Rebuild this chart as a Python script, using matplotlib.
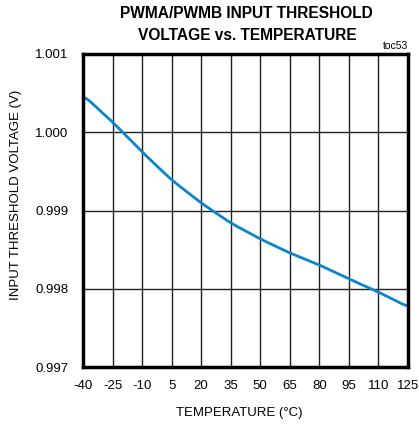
import matplotlib
matplotlib.use("Agg")
import matplotlib.pyplot as plt
import numpy as np

plt.rcParams['font.family'] = ['Liberation Sans', 'DejaVu Sans']
plt.rcParams['axes.unicode_minus'] = False

temp = [-40, -25, -10, 5, 20, 35, 50, 65, 80, 95, 110, 125]
vth = [1.000476, 1.000131, 0.999748, 0.999390, 0.999096, 0.998840,
       0.998636, 0.998457, 0.998304, 0.998125, 0.997958, 0.997767]
xticks = [-40, -25, -10, 5, 20, 35, 50, 65, 80, 95, 110, 125]
yticks = [0.997, 0.998, 0.999, 1.000, 1.001]

fig = plt.figure(figsize=(4.19, 4.25), dpi=100)
ax = fig.add_axes([83 / 419, 1 - 367 / 425, 325 / 419, 313 / 425])

# smooth the curve through the read points
xs = np.linspace(-40, 125, 300)
ys = np.interp(xs, temp, vth)
k = np.ones(15) / 15
ys_s = np.convolve(np.pad(ys, 7, mode='edge'), k, mode='valid')
ax.plot(xs, ys_s, color='#0a86cc', lw=2, zorder=3)

ax.set_xlim(-40, 125)
ax.set_ylim(0.997, 1.001)
ax.set_xticks(xticks)
ax.set_yticks(yticks)
ax.set_yticklabels(['0.997', '0.998', '0.999', '1.000', '1.001'])
ax.grid(True, color='#222222', lw=1)
ax.tick_params(length=0, labelsize=9.5)
ax.tick_params(axis='y', pad=10.5)
ax.tick_params(axis='x', pad=9.5)
for s in ax.spines.values():
    s.set_linewidth(2.5)
    s.set_zorder(4)

fig.text(239.5 / 419, 1 - 413 / 425, 'TEMPERATURE (°C)', fontsize=9.5,
         ha='center', va='center')
fig.text(16 / 419, 1 - 195 / 425, 'INPUT THRESHOLD VOLTAGE (V)', fontsize=9.5,
         ha='center', va='center', rotation=90)
fig.text(246 / 419, 1 - 14 / 425, 'PWMA/PWMB INPUT THRESHOLD',
         ha='center', va='center', fontsize=11.2, fontweight='bold')
fig.text(247 / 419, 1 - 35 / 425, 'VOLTAGE vs. TEMPERATURE',
         ha='center', va='center', fontsize=11.2, fontweight='bold')
fig.text(408 / 419, 1 - 46 / 425, 'toc53', ha='right', va='center', fontsize=7.5)

fig.savefig('out.png', dpi=100)
